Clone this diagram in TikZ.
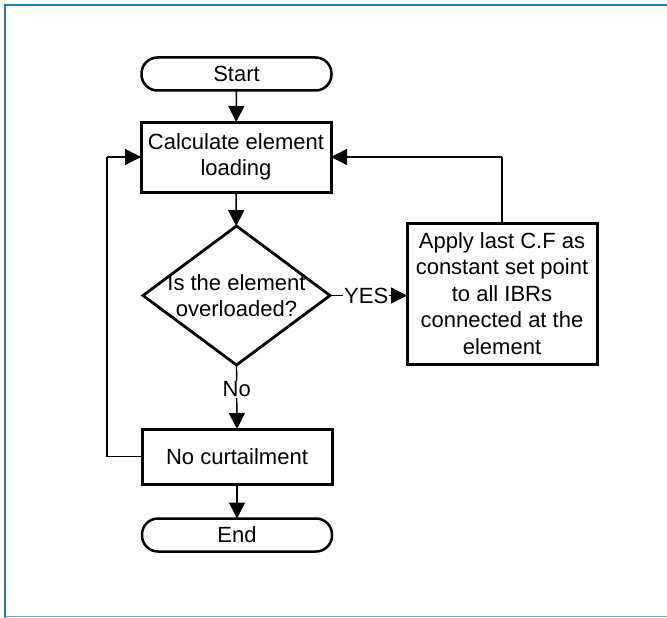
\documentclass[tikz,border=0pt]{standalone}
\usepackage{fontspec}
\setmainfont{Liberation Sans}
\usetikzlibrary{shapes.geometric,arrows.meta}
\definecolor{framedark}{HTML}{1A7FBA}
\definecolor{framelight}{HTML}{6AA6D6}
\begin{document}
\begin{tikzpicture}[x=1pt,y=-1pt,
  every node/.style={font=\fontsize{22}{26.5}\selectfont, inner sep=0pt, outer sep=0pt},
  box/.style={draw, line width=3pt, align=center, minimum width=190pt},
  term/.style={draw, line width=2.5pt, rounded corners=16pt, minimum width=190pt, minimum height=33pt},
  decision/.style={draw, line width=2.8pt, diamond, minimum width=187pt, minimum height=139pt, aspect=1.34},
  conn/.style={line width=1.4pt, -{Triangle[length=16pt,width=16pt]}},
  plain/.style={line width=1.4pt},
  lbl/.style={fill=white, inner sep=1pt}
]
\useasboundingbox (0,0) rectangle (667,618);

% frame
\draw[framedark, line width=2.6pt] (5,618) -- (5,5) -- (667,5);
\draw[framelight, line width=1.2pt] (5,616.6) -- (667,616.6);

% nodes
\node[term] (start) at (236.5,74) {Start};
\node[box, minimum height=70pt] (calc) at (236,157) {Calculate element\\loading};
\node[decision] (dec) at (236.5,295.5) {};
\node[align=center] (dectext) at (dec.center) {Is the element\\overloaded?};
\node[box, minimum height=141pt] (apply) at (502,293.5)
  {Apply last C.F as\\constant set point\\to all IBRs\\connected at the\\element};
\node[box, minimum height=55pt] (nocurt) at (237,456.5) {No curtailment};
\node[term] (end) at (237,535) {End};

\coordinate (fbtop) at (apply.north |- calc.east);
\coordinate (loopbot) at (107,456.5);
\coordinate (looptop) at (107,157);

% connectors
\draw[conn] (start) -- (calc);
\draw[conn] (calc) -- (dec);
\draw[conn] (dec.east) -- (apply.west |- dec.east)
  node[lbl, pos=0.47] (yes) {YES};
\draw[plain] (apply.north) -- (fbtop);
\draw[conn] (fbtop) -- (calc.east);
\draw[conn] (dec.south) -- (nocurt.north)
  node[lbl, pos=0.38] (no) {No};
\draw[plain] (nocurt.west) -- (loopbot) -- (looptop);
\draw[conn] (looptop) -- (calc.west);
\draw[conn] (nocurt) -- (end);
\end{tikzpicture}
\end{document}
